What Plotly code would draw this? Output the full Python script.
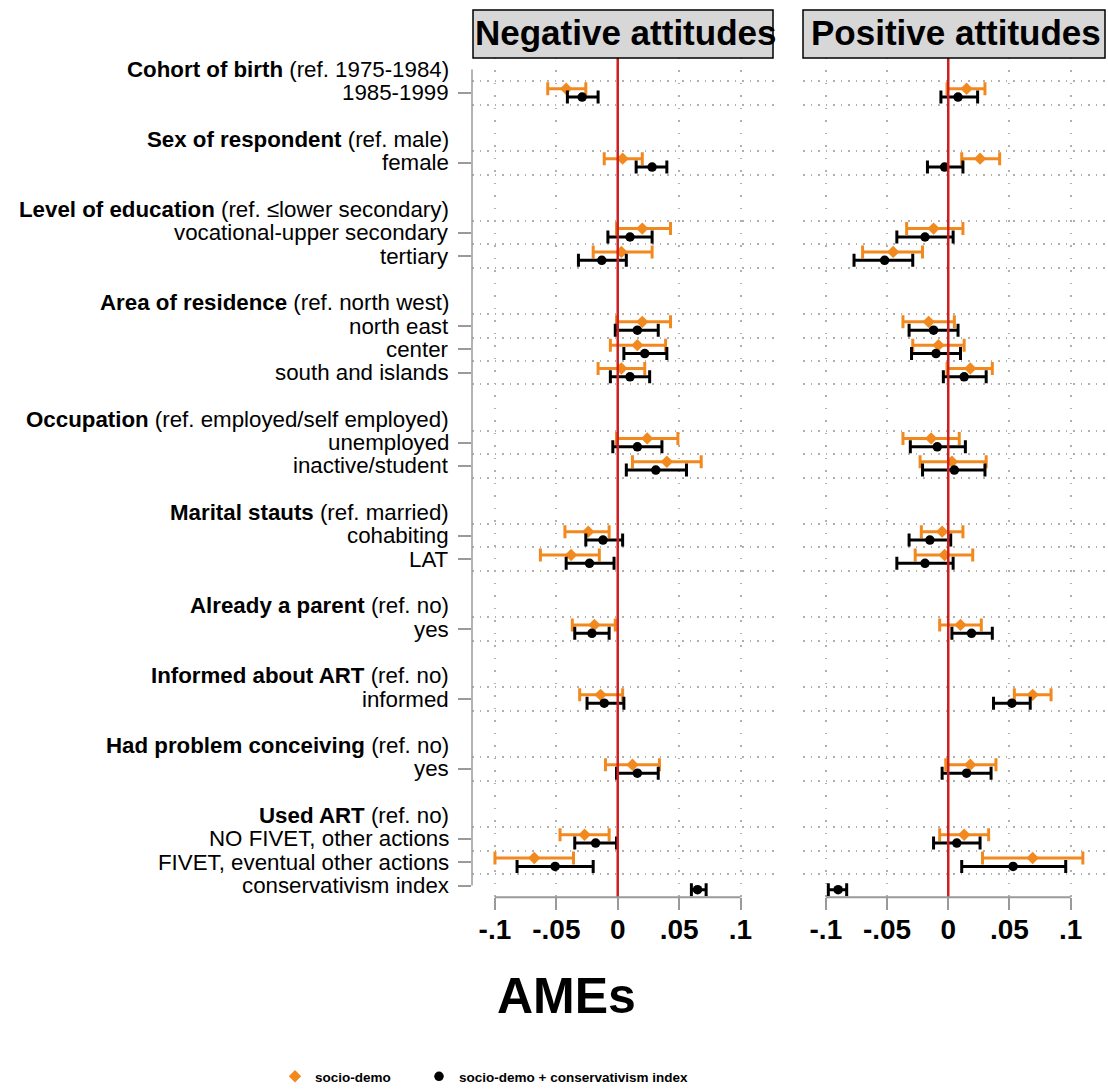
import plotly.graph_objects as go

# ---- coefficient groups (heading, reference category, number of items) ----
group_titles = ["Cohort of birth", "Sex of respondent", "Level of education",
                "Area of residence", "Occupation", "Marital stauts",
                "Already a parent", "Informed about ART",
                "Had problem conceiving", "Used ART"]
group_refs = ["(ref. 1975-1984)", "(ref. male)", "(ref. \u2264lower secondary)",
              "(ref. north west)", "(ref. employed/self employed)", "(ref. married)",
              "(ref. no)", "(ref. no)", "(ref. no)", "(ref. no)"]
group_sizes = [1, 1, 2, 3, 2, 2, 1, 1, 1, 3]

item_labels = ["1985-1999", "female", "vocational-upper secondary", "tertiary",
               "north east", "center", "south and islands", "unemployed",
               "inactive/student", "cohabiting", "LAT", "yes", "informed", "yes",
               "NO FIVET, other actions", "FIVET, eventual other actions",
               "conservativism index"]

# ---- AMEs: Negative attitudes ----
neg_sd_est = [-0.042, 0.004, 0.020, 0.003, 0.020, 0.016, 0.003, 0.024, 0.040,
              -0.024, -0.038, -0.019, -0.014, 0.012, -0.027, -0.068, None]
neg_sd_lo = [-0.057, -0.011, -0.001, -0.020, -0.001, -0.006, -0.016, -0.001, 0.012,
             -0.043, -0.063, -0.037, -0.031, -0.010, -0.047, -0.100, None]
neg_sd_hi = [-0.026, 0.020, 0.043, 0.028, 0.043, 0.039, 0.022, 0.049, 0.068,
             -0.007, -0.015, -0.002, 0.004, 0.034, -0.007, -0.036, None]

neg_ci_est = [-0.029, 0.028, 0.010, -0.013, 0.016, 0.022, 0.010, 0.016, 0.031,
              -0.012, -0.023, -0.021, -0.011, 0.016, -0.018, -0.051, 0.065]
neg_ci_lo = [-0.041, 0.015, -0.008, -0.032, -0.002, 0.005, -0.006, -0.004, 0.007,
             -0.026, -0.042, -0.035, -0.025, -0.001, -0.035, -0.082, 0.060]
neg_ci_hi = [-0.016, 0.040, 0.028, 0.007, 0.033, 0.040, 0.026, 0.036, 0.056,
             0.004, -0.003, -0.007, 0.005, 0.033, -0.001, -0.020, 0.072]

# ---- AMEs: Positive attitudes ----
pos_sd_est = [0.015, 0.026, -0.012, -0.045, -0.016, -0.008, 0.018, -0.014, 0.003,
              -0.005, -0.003, 0.010, 0.069, 0.018, 0.013, 0.069, None]
pos_sd_lo = [-0.001, 0.011, -0.034, -0.070, -0.037, -0.029, -0.001, -0.037, -0.023,
             -0.022, -0.027, -0.007, 0.054, -0.002, -0.007, 0.028, None]
pos_sd_hi = [0.030, 0.042, 0.012, -0.021, 0.005, 0.013, 0.036, 0.009, 0.031,
             0.012, 0.020, 0.027, 0.084, 0.039, 0.033, 0.110, None]

pos_ci_est = [0.008, -0.003, -0.019, -0.052, -0.012, -0.010, 0.013, -0.009, 0.005,
              -0.015, -0.019, 0.019, 0.052, 0.015, 0.007, 0.053, -0.090]
pos_ci_lo = [-0.006, -0.017, -0.042, -0.077, -0.032, -0.030, -0.004, -0.031, -0.021,
             -0.032, -0.042, 0.003, 0.037, -0.005, -0.012, 0.011, -0.098]
pos_ci_hi = [0.024, 0.012, 0.004, -0.029, 0.008, 0.010, 0.031, 0.014, 0.030,
             0.002, 0.004, 0.036, 0.067, 0.035, 0.026, 0.096, -0.083]

x_tickvals = [-0.1, -0.05, 0, 0.05, 0.1]
x_ticktext = ["-.1", "-.05", "0", ".05", ".1"]
series_names = ["socio-demo", "socio-demo + conservativism index"]
panel_titles = ["Negative attitudes", "Positive attitudes"]

# ---- styling ----
W, H = 1108, 1092
ORANGE = "#f2891f"
BLACK = "#000000"
RED = "#d01e1e"
GRID = "#b0b0b0"
AXIS = "#9a9a9a"
FONT = "Liberation Sans, Arial, sans-serif"

# row layout: heading row, item rows, one blank row between groups
heading_rows, item_rows = [], []
r = 0
for n in group_sizes:
    heading_rows.append(r)
    item_rows.extend(range(r + 1, r + 1 + n))
    r += n + 2
grid_rows = sorted({v for ir in item_rows for v in (ir - 0.5, ir + 0.5)})

def px_x(p):
    return p / W

def px_y(p):
    return 1 - p / H

x_range = [-0.1187, 0.1281]
x_domains = [[px_x(472), px_x(775)], [px_x(803), px_x(1105)]]
y_domain = [px_y(898), px_y(58)]

def err(est, lo, hi):
    plus = [None if e is None else h - e for e, h in zip(est, hi)]
    minus = [None if e is None else e - l for e, l in zip(est, lo)]
    return plus, minus

fig = go.Figure()

panels = [
    ((neg_sd_est, neg_sd_lo, neg_sd_hi), (neg_ci_est, neg_ci_lo, neg_ci_hi)),
    ((pos_sd_est, pos_sd_lo, pos_sd_hi), (pos_ci_est, pos_ci_lo, pos_ci_hi)),
]
OFFSET = 0.18
legend_ids = ["legend", "legend2"]
for k, (sd, ci) in enumerate(panels):
    xa = "x" if k == 0 else "x2"
    ya = "y" if k == 0 else "y2"
    for s, (vals, color, symbol, size, shift) in enumerate([
        (sd, ORANGE, "diamond", 9.5, -OFFSET),
        (ci, BLACK, "circle", 9.5, OFFSET),
    ]):
        est, lo, hi = vals
        plus, minus = err(est, lo, hi)
        fig.add_trace(go.Scatter(
            x=est, y=[ir + shift for ir in item_rows],
            xaxis=xa, yaxis=ya, mode="markers",
            name=series_names[s], showlegend=(k == 0), legend=legend_ids[s],
            marker=dict(color=color, symbol=symbol, size=size, line=dict(width=0)),
            error_x=dict(type="data", symmetric=False, array=plus, arrayminus=minus,
                         color=color, thickness=3, width=6.5),
            cliponaxis=False,
        ))

shapes = []
annotations = []

axis_common = dict(
    range=x_range, tickmode="array", tickvals=x_tickvals, ticktext=x_ticktext,
    ticks="outside", ticklen=12, tickwidth=2, tickcolor=AXIS,
    showline=False, zeroline=False,
    showgrid=True, gridcolor=GRID, gridwidth=1.5, griddash="1.5px,11px",
    tickfont=dict(family=FONT, size=28, color="black", weight="bold"),
    ticklabelstandoff=-5,
    fixedrange=True,
)
y_common = dict(
    range=[35.5, -0.5], domain=y_domain, tickmode="array", tickvals=item_rows,
    showticklabels=False, showgrid=False, zeroline=False, showline=False,
    minor=dict(tickmode="array", tickvals=grid_rows, showgrid=True,
               gridcolor=GRID, gridwidth=1.5, griddash="1.5px,6px", ticks=""),
    fixedrange=True,
)

for k in range(2):
    xa = "x" if k == 0 else "x2"
    # zero reference line
    shapes.append(dict(type="line", xref=xa, yref="paper", x0=0, x1=0,
                       y0=y_domain[0], y1=y_domain[1],
                       line=dict(color=RED, width=2.5), layer="above"))
    # x axis line spanning the labelled range
    shapes.append(dict(type="line", xref=xa, yref="paper", x0=-0.1, x1=0.1,
                       y0=y_domain[0], y1=y_domain[0],
                       line=dict(color=AXIS, width=2)))
    # panel header box
    x0, x1 = (473, 773) if k == 0 else (803, 1105)
    shapes.append(dict(type="rect", xref="paper", yref="paper",
                       x0=px_x(x0), x1=px_x(x1), y0=px_y(58), y1=px_y(10),
                       fillcolor="#d7d7d7", line=dict(color="black", width=1.5)))
    annotations.append(dict(xref="paper", yref="paper",
                            x=px_x((x0 + x1) / 2 + 2), y=px_y(33),
                            text="<b>" + panel_titles[k] + "</b>", showarrow=False,
                            font=dict(family=FONT, size=35, color="black"),
                            xanchor="center", yanchor="middle"))

# left y axis line from first to last row
shapes.append(dict(type="line", xref="paper", yref="y", x0=px_x(472), x1=px_x(472),
                   y0=0, y1=item_rows[-1], line=dict(color=AXIS, width=1.5)))

# row labels
LABEL_X = px_x(451)
for title, ref, hr in zip(group_titles, group_refs, heading_rows):
    annotations.append(dict(xref="paper", yref="y", x=LABEL_X, y=hr,
                            text="<b>" + title + "</b> " + ref, showarrow=False,
                            xanchor="right", yanchor="middle",
                            font=dict(family=FONT, size=22.3, color="black")))
for lab, ir in zip(item_labels, item_rows):
    annotations.append(dict(xref="paper", yref="y", x=LABEL_X, y=ir,
                            text=lab, showarrow=False,
                            xanchor="right", yanchor="middle",
                            font=dict(family=FONT, size=22.3, color="black")))

# x axis title
annotations.append(dict(xref="paper", yref="paper", x=px_x(567), y=px_y(997),
                        text="<b>AMEs</b>", showarrow=False,
                        xanchor="center", yanchor="middle",
                        font=dict(family=FONT, size=50, color="black")))

legend_style = dict(orientation="h", xanchor="left", yanchor="middle",
                    y=px_y(1077),
                    font=dict(family=FONT, size=13.5, color="black", weight="bold"),
                    bgcolor="rgba(0,0,0,0)", itemclick=False)

fig.update_layout(
    width=W, height=H,
    margin=dict(l=0, r=0, t=0, b=0),
    paper_bgcolor="white", plot_bgcolor="white",
    xaxis=dict(domain=x_domains[0], anchor="y", **axis_common),
    xaxis2=dict(domain=x_domains[1], anchor="y2", **axis_common),
    yaxis=dict(anchor="x", ticks="outside", ticklen=13, tickwidth=1.5,
               tickcolor=AXIS, **y_common),
    yaxis2=dict(anchor="x2", matches="y", ticks="", **y_common),
    shapes=shapes,
    annotations=annotations,
    showlegend=True,
    legend=dict(x=px_x(275), **legend_style),
    legend2=dict(x=px_x(419), **legend_style),
)

fig.write_html("out.html")
